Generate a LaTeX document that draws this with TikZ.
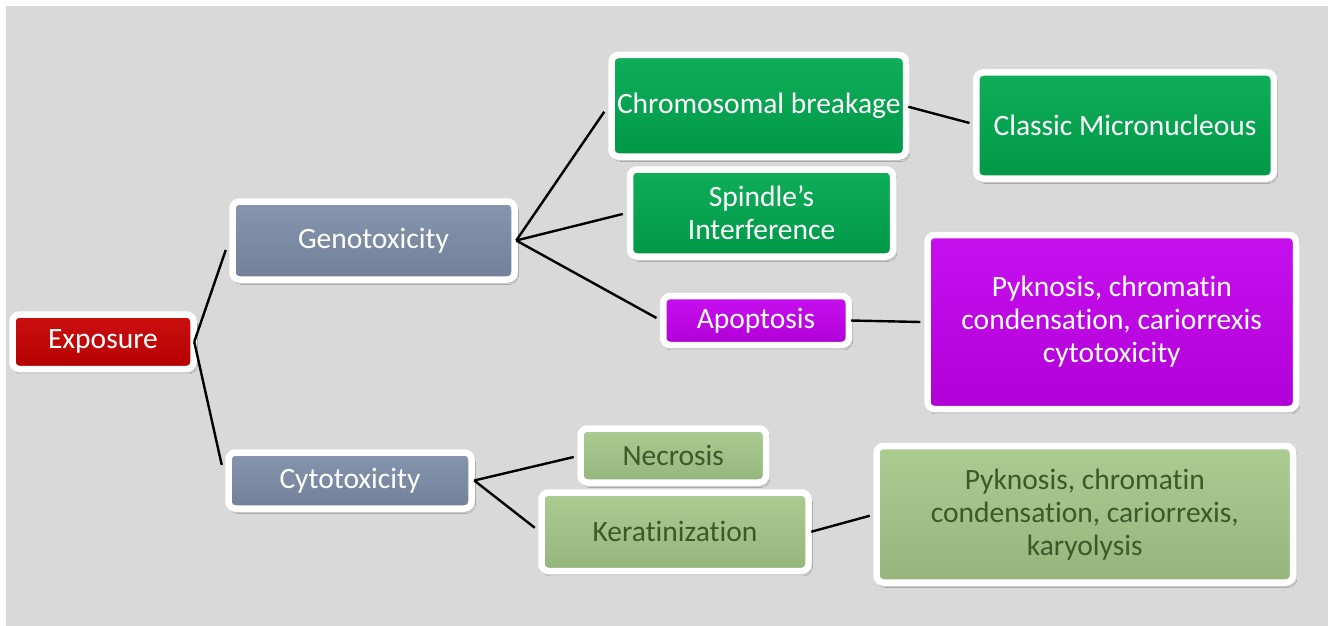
\documentclass[tikz,border=0pt]{standalone}
\usepackage{fontspec}
\setmainfont{Carlito}[Ligatures={NoCommon,NoContextual,NoRequired}]
\usetikzlibrary{shadows.blur}
\definecolor{bg}{HTML}{D9D9D9}
\definecolor{cred}{HTML}{C80000}
\definecolor{cslate}{HTML}{7E8FA9}
\definecolor{cgreen}{HTML}{00A94F}
\definecolor{cpurple}{HTML}{C400EE}
\definecolor{clight}{HTML}{A5C98A}
\definecolor{cdarktext}{HTML}{3C5A28}
\tikzset{
  box/.style={draw=white, line width=6.5pt, rounded corners=7pt, inner sep=0pt,
    align=center, font=\fontsize{29.5}{33}\selectfont, text=white,
    blur shadow={shadow blur steps=6, shadow xshift=2pt, shadow yshift=-3pt, shadow opacity=30}},
  tint/.style={top color=#1!94!white, middle color=#1, bottom color=#1!90!black},
  conn/.style={line width=2.4pt, black}
}
\begin{document}
\begin{tikzpicture}[x=1pt,y=-1pt]
\useasboundingbox (0,0) rectangle (1328,626);
\fill[white] (0,0) rectangle (1328,626);
\fill[bg] (6,6) rectangle (1328,626);

\node[box, tint=cred, minimum width=181pt, minimum height=54.5pt] (exp) at (103,341.75) {Exposure};
\node[box, tint=cslate, minimum width=282pt, minimum height=78pt] (gen) at (373.5,240.5) {Genotoxicity};
\node[box, tint=cslate, minimum width=243pt, minimum height=56pt] (cyt) at (350,480.5) {Cytotoxicity};
\node[box, tint=cgreen, minimum width=294.5pt, minimum height=101.5pt] (chr) at (758.75,105.75) {Chromosomal breakage};
\node[box, tint=cgreen, minimum width=263pt, minimum height=87pt] (spi) at (761.5,213) {Spindle’s\\Interference};
\node[box, tint=cpurple, minimum width=185.5pt, minimum height=49pt] (apo) at (756,320.5) {Apoptosis};
\node[box, tint=cgreen, minimum width=297.5pt, minimum height=106pt] (cla) at (1125,125.5) {Classic Micronucleous};
\node[box, tint=cpurple, minimum width=368.5pt, minimum height=174pt] (pyp) at (1111.75,322) {Pyknosis, chromatin\\condensation, cariorrexis\\cytotoxicity};
\node[box, tint=clight, text=cdarktext, minimum width=185.5pt, minimum height=54pt] (nec) at (673.25,455.5) {Necrosis};
\node[box, tint=clight, text=cdarktext, minimum width=267pt, minimum height=78.5pt] (ker) at (675,531.75) {Keratinization};
\node[box, tint=clight, text=cdarktext, minimum width=416.5pt, minimum height=136.5pt] (pyg) at (1084.75,514.25) {Pyknosis, chromatin\\condensation, cariorrexis,\\karyolysis};

\draw[conn] ([xshift=-2.5pt]exp.east) -- ([xshift=-3.5pt,yshift=-9.5pt]gen.west);
\draw[conn] ([xshift=-2.5pt]exp.east) -- ([xshift=-3.5pt,yshift=15.5pt]cyt.west);
\draw[conn] ([xshift=-1.5pt]gen.east) -- ([xshift=-4pt,yshift=-6pt]chr.west);
\draw[conn] ([xshift=-1.5pt]gen.east) -- ([xshift=-4pt,yshift=-1pt]spi.west);
\draw[conn] ([xshift=-1.5pt]gen.east) -- ([xshift=-3.5pt,yshift=2.5pt]apo.west);
\draw[conn] ([xshift=-1pt,yshift=-1pt]chr.east) -- ([xshift=-3.5pt,yshift=2.5pt]cla.west);
\draw[conn] ([xshift=-1pt]apo.east) -- ([xshift=-4pt]pyp.west);
\draw[conn] ([xshift=-0.5pt]cyt.east) -- ([xshift=-3.5pt,yshift=-1.5pt]nec.west);
\draw[conn] ([xshift=-0.5pt]cyt.east) -- ([xshift=-3.5pt,yshift=4pt]ker.west);
\draw[conn] ([xshift=-0.5pt]ker.east) -- ([xshift=-3.5pt,yshift=-1.5pt]pyg.west);
\end{tikzpicture}
\end{document}
